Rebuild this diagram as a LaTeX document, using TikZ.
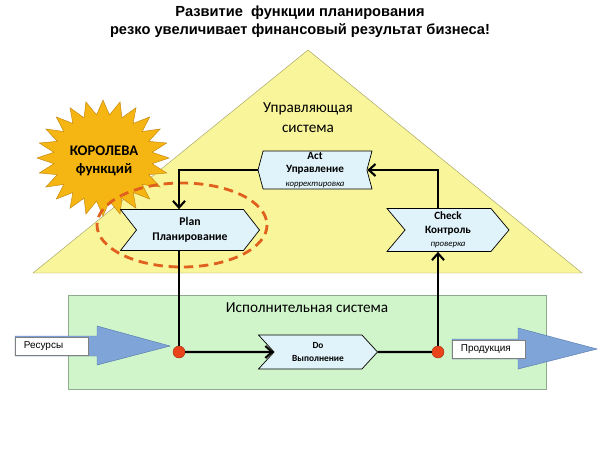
\documentclass[tikz,border=0pt]{standalone}
\usepackage{fontspec}
\setmainfont{Carlito}
\newfontfamily\arialfont{Liberation Sans}
\usetikzlibrary{arrows.meta,shapes.symbols}

\definecolor{triyellow}{HTML}{F9F59B}
\definecolor{triedge}{HTML}{A8A466}
\definecolor{execgreen}{HTML}{D0F5CB}
\definecolor{execedge}{HTML}{8FAA8F}
\definecolor{stepblue}{HTML}{E0F3FA}
\definecolor{flowblue}{HTML}{7FA4D8}
\definecolor{flowedge}{HTML}{5A7DB0}
\definecolor{sungold}{HTML}{F5B512}
\definecolor{sunedge}{HTML}{C4860E}
\definecolor{dotred}{HTML}{E8431A}
\definecolor{ringred}{HTML}{E0601E}

\tikzset{
  pdca/.style={signal, draw=black, fill=stepblue, line width=0.6pt, inner sep=0pt,
    align=center, font=\bfseries\fontsize{10}{12.5}\selectfont},
  link/.style={line width=1.8pt},
  flow/.style={link, -{Straight Barb[length=2mm,width=3.6mm,line width=1.8pt]}},
  junction/.style={circle, fill=dotred, draw=dotred!75!black, minimum size=0.36cm, inner sep=0pt},
  tag/.style={draw=gray, fill=white, anchor=west, minimum height=0.54cm,
    text width=1.68cm, inner xsep=0.26cm, inner ysep=0pt, font=\arialfont\fontsize{8.5}{10}\selectfont}
}

\begin{document}
\begin{tikzpicture}[x=0.03cm, y=-0.03cm]
\useasboundingbox (0,0) rectangle (600,450);

% title
\node[font=\arialfont\bfseries\fontsize{12.5}{15.3}\selectfont, align=center] (title) at (300,22)
  {Развитие\ \ функции планирования\\резко увеличивает финансовый результат бизнеса!};

% management system
\draw[triedge, fill=triyellow] (33,273) -- (308,50) -- (582,273) -- cycle;
\node[font=\fontsize{13}{17}\selectfont, align=center] (ctrl) at (308,118) {Управляющая\\система};

% execution system
\draw[execedge, fill=execgreen] (68,295) rectangle (546,389);
\node[font=\fontsize{13}{15}\selectfont] (exec) at (307,308) {Исполнительная система};

% queen of functions
\draw[sunedge, fill=sungold] plot[variable=\k, samples at={0,...,47}]
  ({103+66*(1-0.25*mod(\k,2))*cos(\k*7.5)}, {158-58*(1-0.25*mod(\k,2))*sin(\k*7.5)}) -- cycle;
\node[font=\bfseries\fontsize{12.5}{15.3}\selectfont, align=center] (queen) at (104,161) {КОРОЛЕВА\\функций};
\draw[ringred, line width=2.4pt, dash pattern=on 8pt off 5pt] (182,225) ellipse (85 and 42);

% cycle steps
\node[pdca, signal to=west, signal from=east, signal pointer angle=150,
  minimum width=3.42cm, minimum height=1.14cm, font=\bfseries\fontsize{9.5}{11.5}\selectfont] (act) at (315,170)
  {Act\\Управление\\{\mdseries\itshape\fontsize{7.5}{9}\selectfont корректировка}};
\node[pdca, signal to=east, signal from=west, signal pointer angle=104,
  minimum width=4.17cm, minimum height=1.23cm] (plan) at (190,230) {Plan\\Планирование};
\node[pdca, signal to=east, signal from=west, signal pointer angle=100,
  minimum width=3.66cm, minimum height=1.29cm, font=\bfseries\fontsize{9.5}{11.5}\selectfont] (check) at (448,230)
  {Check\\Контроль\\{\mdseries\itshape\fontsize{7.5}{9}\selectfont проверка}};
\node[pdca, signal to=east, signal from=west, signal pointer angle=95,
  minimum width=3.57cm, minimum height=1.02cm, font=\bfseries\fontsize{8}{11}\selectfont] (do) at (318,352)
  {Do\\Выполнение};

% inputs and outputs
\draw[flowedge, fill=flowblue] (15,336) -- (97,336) -- (97,326) -- (170,346) -- (97,365) -- (97,356) -- (15,356) -- cycle;
\node[tag] (res) at (15,346) {Ресурсы};
\draw[flowedge, fill=flowblue] (452,339) -- (518,339) -- (518,328) -- (597,349) -- (518,369) -- (518,359) -- (452,359) -- cycle;
\node[tag] (prod) at (452,349) {Продукция};

\node[junction] (j1) at (179,352) {};
\node[junction] (j2) at (438,352) {};

% connectors
\draw[flow] (j1) -- (do);
\draw[link] (do) -- (j2);
\draw[link] (j1) -- (j1 |- plan.south);
\draw[flow] (j2) -- (j2 |- check.south);
\draw[flow] (j2 |- check.north) |- (act);
\draw[flow] (act) -| (j1 |- plan.north);
\end{tikzpicture}
\end{document}
